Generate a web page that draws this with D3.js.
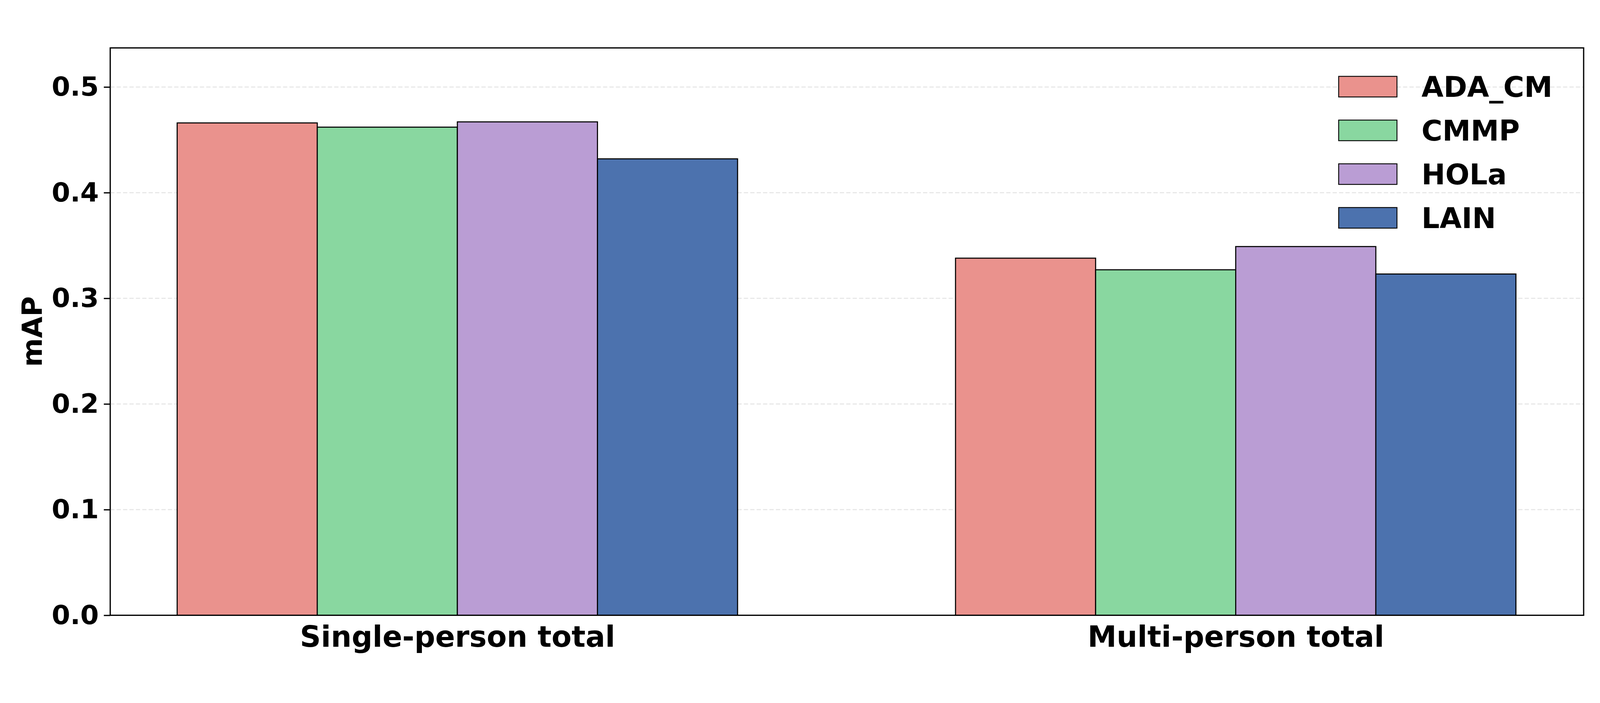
<!DOCTYPE html>
<html><head><meta charset="utf-8">
<script src="https://cdn.jsdelivr.net/npm/d3@7"></script>
<style>html,body{margin:0;padding:0;background:#fff;overflow:hidden}
#c{display:block;width:100vw;height:100vh}</style>
</head><body><svg id="c" viewBox="0 0 4500 1800" preserveAspectRatio="xMidYMid meet"></svg>
<script>
const categories = ["Single-person total", "Multi-person total"];
const seriesNames = ["ADA_CM", "CMMP", "HOLa", "LAIN"];
const seriesColors = ["#EA928D", "#89D7A0", "#BA9DD4", "#4C72AE"];
const ADA_CM = [0.466, 0.338];
const CMMP = [0.462, 0.327];
const HOLa = [0.467, 0.349];
const LAIN = [0.432, 0.323];
const seriesValues = [ADA_CM, CMMP, HOLa, LAIN];
const yTicks = [0.0, 0.1, 0.2, 0.3, 0.4, 0.5];

const svg = d3.select("#c");
const L = 310, R = 4454, T = 46, B = 1642;
const font = "DejaVu Sans";
const x = d3.scaleLinear().domain([-0.446, 1.447]).range([L, R]);
const y = d3.scaleLinear().domain([0, 0.537]).range([B, T]);
const bw = 0.18;

svg.append("g").selectAll("line").data(yTicks).join("line")
  .attr("x1", L).attr("x2", R).attr("y1", d => y(d)).attr("y2", d => y(d))
  .attr("stroke", "#e6e6e6").attr("stroke-width", 3).attr("stroke-dasharray", "12,6");

seriesValues.forEach((vals, si) => {
  svg.append("g").selectAll("rect").data(vals).join("rect")
    .attr("x", (d, i) => x(i + (si - 2) * bw))
    .attr("width", x(bw) - x(0))
    .attr("y", d => y(d)).attr("height", d => y(0) - y(d))
    .attr("fill", seriesColors[si]).attr("stroke", "#000").attr("stroke-width", 3);
});

svg.append("rect").attr("x", L).attr("y", T).attr("width", R - L).attr("height", B - T)
  .attr("fill", "none").attr("stroke", "#000").attr("stroke-width", 3.5);

const ya = d3.axisLeft(y).tickValues(yTicks).tickFormat(d3.format(".1f")).tickSize(18).tickPadding(14);
const gy = svg.append("g").attr("transform", `translate(${L},0)`).call(ya);
gy.select(".domain").remove();
gy.selectAll("line").attr("stroke-width", 3.5);
gy.selectAll("text").attr("font-family", font).attr("font-weight", "bold").attr("font-size", 75).attr("fill", "#000");

const xa = d3.axisBottom(x).tickValues([0, 1]).tickFormat((d) => categories[d]).tickSize(0).tickPadding(30);
const gx = svg.append("g").attr("transform", `translate(0,${B})`).call(xa);
gx.select(".domain").remove();
gx.selectAll("text").attr("font-family", font).attr("font-weight", "bold").attr("font-size", 82).attr("fill", "#000");

svg.append("text").attr("transform", `translate(118,${(T + B) / 2}) rotate(-90)`)
  .attr("text-anchor", "middle").attr("font-family", font).attr("font-weight", "bold")
  .attr("font-size", 78).text("mAP");

const lg = svg.append("g");
seriesNames.forEach((n, i) => {
  const cy = 155 + i * 123;
  lg.append("rect").attr("x", 3765).attr("y", cy - 29).attr("width", 164).attr("height", 58)
    .attr("fill", seriesColors[i]).attr("stroke", "#000").attr("stroke-width", 2.5);
  lg.append("text").attr("x", 3998).attr("y", cy).attr("dy", "0.36em")
    .attr("font-family", font).attr("font-weight", "bold").attr("font-size", 80).text(n);
});
</script></body></html>
